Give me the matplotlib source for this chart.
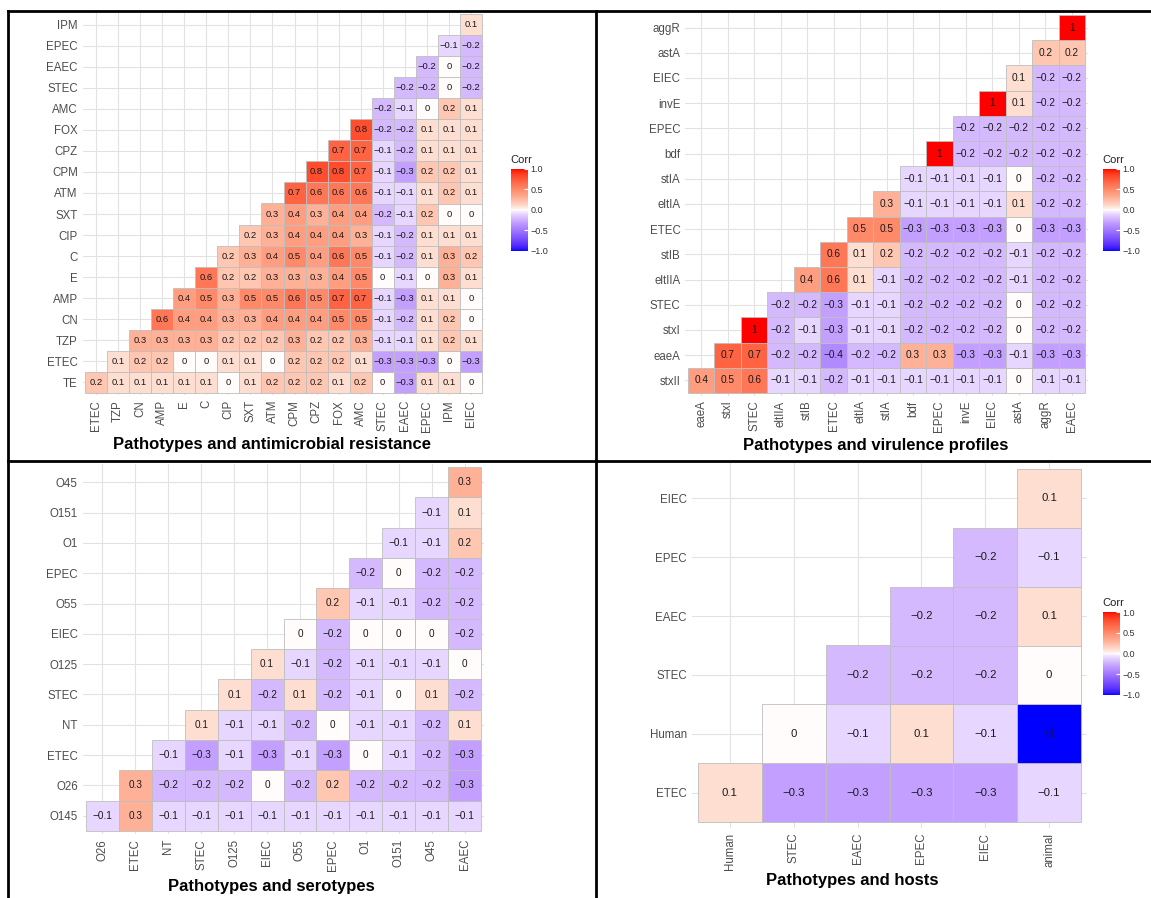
import numpy as np
import matplotlib
matplotlib.use("Agg")
import matplotlib.pyplot as plt
from matplotlib.colors import ListedColormap, Normalize
from matplotlib.patches import Rectangle
from matplotlib.lines import Line2D

plt.rcParams['font.family'] = ['Liberation Sans', 'DejaVu Sans']

# ---- data (lower triangle, row i = correlation of var i with the vars after it) ----
amr_vars = ['TE', 'ETEC', 'TZP', 'CN', 'AMP', 'E', 'C', 'CIP', 'SXT', 'ATM',
            'CPM', 'CPZ', 'FOX', 'AMC', 'STEC', 'EAEC', 'EPEC', 'IPM', 'EIEC']
amr_corr = [
    [0.2, 0.1, 0.1, 0.1, 0.1, 0.1, 0, 0.1, 0.2, 0.2, 0.2, 0.1, 0.2, 0, -0.3, 0.1, 0.1, 0],
    [0.1, 0.2, 0.2, 0, 0, 0.1, 0.1, 0, 0.2, 0.2, 0.2, 0.1, -0.3, -0.3, -0.3, 0, -0.3],
    [0.3, 0.3, 0.3, 0.3, 0.2, 0.2, 0.2, 0.3, 0.2, 0.2, 0.3, -0.1, -0.1, 0.1, 0.2, 0.1],
    [0.6, 0.4, 0.4, 0.3, 0.3, 0.4, 0.4, 0.4, 0.5, 0.5, -0.1, -0.2, 0.1, 0.2, 0],
    [0.4, 0.5, 0.3, 0.5, 0.5, 0.6, 0.5, 0.7, 0.7, -0.1, -0.3, 0.1, 0.1, 0],
    [0.6, 0.2, 0.2, 0.3, 0.3, 0.3, 0.4, 0.5, 0, -0.1, 0, 0.3, 0.1],
    [0.2, 0.3, 0.4, 0.5, 0.4, 0.6, 0.5, -0.1, -0.2, 0.1, 0.3, 0.2],
    [0.2, 0.3, 0.4, 0.4, 0.4, 0.3, -0.1, -0.2, 0.1, 0.1, 0.1],
    [0.3, 0.4, 0.3, 0.4, 0.4, -0.2, -0.1, 0.2, 0, 0],
    [0.7, 0.6, 0.6, 0.6, -0.1, -0.1, 0.1, 0.2, 0.1],
    [0.8, 0.8, 0.7, -0.1, -0.3, 0.2, 0.2, 0.1],
    [0.7, 0.7, -0.1, -0.2, 0.1, 0.1, 0.1],
    [0.8, -0.2, -0.2, 0.1, 0.1, 0.1],
    [-0.2, -0.1, 0, 0.2, 0.1],
    [-0.2, -0.2, 0, -0.2],
    [-0.2, 0, -0.2],
    [-0.1, -0.2],
    [0.1],
]

vir_vars = ['stxII', 'eaeA', 'stxI', 'STEC', 'eltIIA', 'stIB', 'ETEC', 'eltIA',
            'stIA', 'bdf', 'EPEC', 'invE', 'EIEC', 'astA', 'aggR', 'EAEC']
vir_corr = [
    [0.4, 0.5, 0.6, -0.1, -0.1, -0.2, -0.1, -0.1, -0.1, -0.1, -0.1, -0.1, 0, -0.1, -0.1],
    [0.7, 0.7, -0.2, -0.2, -0.4, -0.2, -0.2, 0.3, 0.3, -0.3, -0.3, -0.1, -0.3, -0.3],
    [1, -0.2, -0.1, -0.3, -0.1, -0.1, -0.2, -0.2, -0.2, -0.2, 0, -0.2, -0.2],
    [-0.2, -0.2, -0.3, -0.1, -0.1, -0.2, -0.2, -0.2, -0.2, 0, -0.2, -0.2],
    [0.4, 0.6, 0.1, -0.1, -0.2, -0.2, -0.2, -0.2, -0.1, -0.2, -0.2],
    [0.6, 0.1, 0.2, -0.2, -0.2, -0.2, -0.2, -0.1, -0.2, -0.2],
    [0.5, 0.5, -0.3, -0.3, -0.3, -0.3, 0, -0.3, -0.3],
    [0.3, -0.1, -0.1, -0.1, -0.1, 0.1, -0.2, -0.2],
    [-0.1, -0.1, -0.1, -0.1, 0, -0.2, -0.2],
    [1, -0.2, -0.2, -0.2, -0.2, -0.2],
    [-0.2, -0.2, -0.2, -0.2, -0.2],
    [1, 0.1, -0.2, -0.2],
    [0.1, -0.2, -0.2],
    [0.2, 0.2],
    [1],
]

sero_vars = ['O145', 'O26', 'ETEC', 'NT', 'STEC', 'O125', 'EIEC', 'O55',
             'EPEC', 'O1', 'O151', 'O45', 'EAEC']
sero_corr = [
    [-0.1, 0.3, -0.1, -0.1, -0.1, -0.1, -0.1, -0.1, -0.1, -0.1, -0.1, -0.1],
    [0.3, -0.2, -0.2, -0.2, 0, -0.2, 0.2, -0.2, -0.2, -0.2, -0.3],
    [-0.1, -0.3, -0.1, -0.3, -0.1, -0.3, 0, -0.1, -0.2, -0.3],
    [0.1, -0.1, -0.1, -0.2, 0, -0.1, -0.1, -0.2, 0.1],
    [0.1, -0.2, 0.1, -0.2, -0.1, 0, 0.1, -0.2],
    [0.1, -0.1, -0.2, -0.1, -0.1, -0.1, 0],
    [0, -0.2, 0, 0, 0, -0.2],
    [0.2, -0.1, -0.1, -0.2, -0.2],
    [-0.2, 0, -0.2, -0.2],
    [-0.1, -0.1, 0.2],
    [-0.1, 0.1],
    [0.3],
]

host_vars = ['ETEC', 'Human', 'STEC', 'EAEC', 'EPEC', 'EIEC', 'animal']
host_corr = [
    [0.1, -0.3, -0.3, -0.3, -0.3, -0.1],
    [0, -0.1, 0.1, -0.1, -1],
    [-0.2, -0.2, -0.2, 0],
    [-0.2, -0.2, 0.1],
    [-0.2, -0.1],
    [0.1],
]

W, H = 1151, 898


# ggplot's gradient2 (blue - white - red) is interpolated in CIELAB
def lab_to_rgb(L, a, b):
    fy = (L + 16) / 116
    fx = fy + a / 500
    fz = fy - b / 200

    def finv(t):
        return t ** 3 if t > 6 / 29 else 3 * (6 / 29) ** 2 * (t - 4 / 29)
    X, Y, Z = 0.95047 * finv(fx), finv(fy), 1.08883 * finv(fz)
    lin = [3.2406 * X - 1.5372 * Y - 0.4986 * Z,
           -0.9689 * X + 1.8758 * Y + 0.0415 * Z,
           0.0557 * X - 0.2040 * Y + 1.0570 * Z]
    out = []
    for c in lin:
        c = min(max(c, 0), 1)
        out.append(12.92 * c if c <= 0.0031308 else 1.055 * c ** (1 / 2.4) - 0.055)
    return out


white = np.array([100.0, 0.0, 0.0])
red = np.array([53.24, 80.09, 67.20])
blue = np.array([32.30, 79.19, -107.86])
cols = []
for v in np.linspace(-1, 1, 256):
    # labels are rounded, the real values are a bit stronger -> lift the small end
    t = abs(v) ** 0.75
    lab = white + (red - white) * t if v >= 0 else white + (blue - white) * t
    cols.append(lab_to_rgb(*lab))
cmap = ListedColormap(cols)
norm = Normalize(-1, 1)


def fmt(v):
    return f'{v:g}'.replace('-', '\u2212')


def corr_panel(fig, vars_, corr, box, lab_size, title, title_xy):
    rows, cols_ = vars_[:-1], vars_[1:]
    n = len(rows)
    left, top, right, bottom = box
    cw = (right - left) / n
    ch = (bottom - top) / n
    ax = fig.add_axes([(left - 0.1 * cw) / W, 1 - (bottom + 0.1 * ch) / H,
                       (right - left + 0.2 * cw) / W, (bottom - top + 0.2 * ch) / H])
    ax.set_xlim(-0.6, n - 0.4)
    ax.set_ylim(-0.6, n - 0.4)
    for i, row in enumerate(corr):
        for k, v in enumerate(row):
            j = i + k
            ax.add_patch(Rectangle((j - 0.5, i - 0.5), 1, 1, facecolor=cmap(norm(v)),
                                   edgecolor='#BEBEBE', lw=0.6, zorder=2))
            ax.text(j, i, fmt(v), ha='center', va='center', fontsize=lab_size,
                    color='#1a1a1a', zorder=3)
    ax.set_xticks(range(n))
    ax.set_xticklabels(cols_, rotation=90)
    ax.set_yticks(range(n))
    ax.set_yticklabels(rows)
    ax.tick_params(length=0, labelsize=8.3, colors='#4D4D4D', pad=3.5)
    ax.grid(True, color='#E2E2E2', lw=0.8)
    ax.set_axisbelow(True)
    for s in ax.spines.values():
        s.set_visible(False)
    fig.text(title_xy[0] / W, 1 - title_xy[1] / H, title, ha='center', va='center',
             fontsize=12, fontweight='bold')
    return ax


def corr_legend(fig, bar_box):
    l, t, r, b = bar_box
    cax = fig.add_axes([l / W, 1 - b / H, (r - l) / W, (b - t) / H])
    sm = plt.cm.ScalarMappable(norm=norm, cmap=cmap)
    cb = fig.colorbar(sm, cax=cax, ticks=[-1, -0.5, 0, 0.5, 1])
    cb.ax.set_yticklabels(['\u22121.0', '\u22120.5', '0.0', '0.5', '1.0'])
    cb.outline.set_visible(False)
    cax.tick_params(length=3, color='white', direction='in', labelsize=6.5,
                    labelcolor='#333333', pad=2)
    fig.text((l - 1) / W, 1 - (t - 4) / H, 'Corr', fontsize=8, ha='left', va='bottom',
             color='#222222')


fig = plt.figure(figsize=(W / 100, H / 100), dpi=100)

corr_panel(fig, amr_vars, amr_corr, (85, 14, 482, 393), 6.8,
           'Pathotypes and antimicrobial resistance', (272, 444))
corr_legend(fig, (511, 169, 528, 251))

corr_panel(fig, vir_vars, vir_corr, (688, 15, 1085, 393), 7.3,
           'Pathotypes and virulence profiles', (876, 445))
corr_legend(fig, (1103, 169, 1120, 251))

corr_panel(fig, sero_vars, sero_corr, (86, 467, 481, 831), 7.2,
           'Pathotypes and serotypes', (271, 887))

corr_panel(fig, host_vars, host_corr, (698, 469, 1081, 822), 8.2,
           'Pathotypes and hosts', (852, 880))
corr_legend(fig, (1103, 612, 1120, 695))

# black frame lines between the four panels
for x0, y0, x1, y1 in [(8, 11, 1151, 11), (8, 11, 8, 898),
                       (596, 11, 596, 898), (8, 461, 1151, 461)]:
    fig.add_artist(Line2D([x0 / W, x1 / W], [1 - y0 / H, 1 - y1 / H],
                          transform=fig.transFigure, color='black', lw=2))

fig.savefig('out.png', dpi=100)
